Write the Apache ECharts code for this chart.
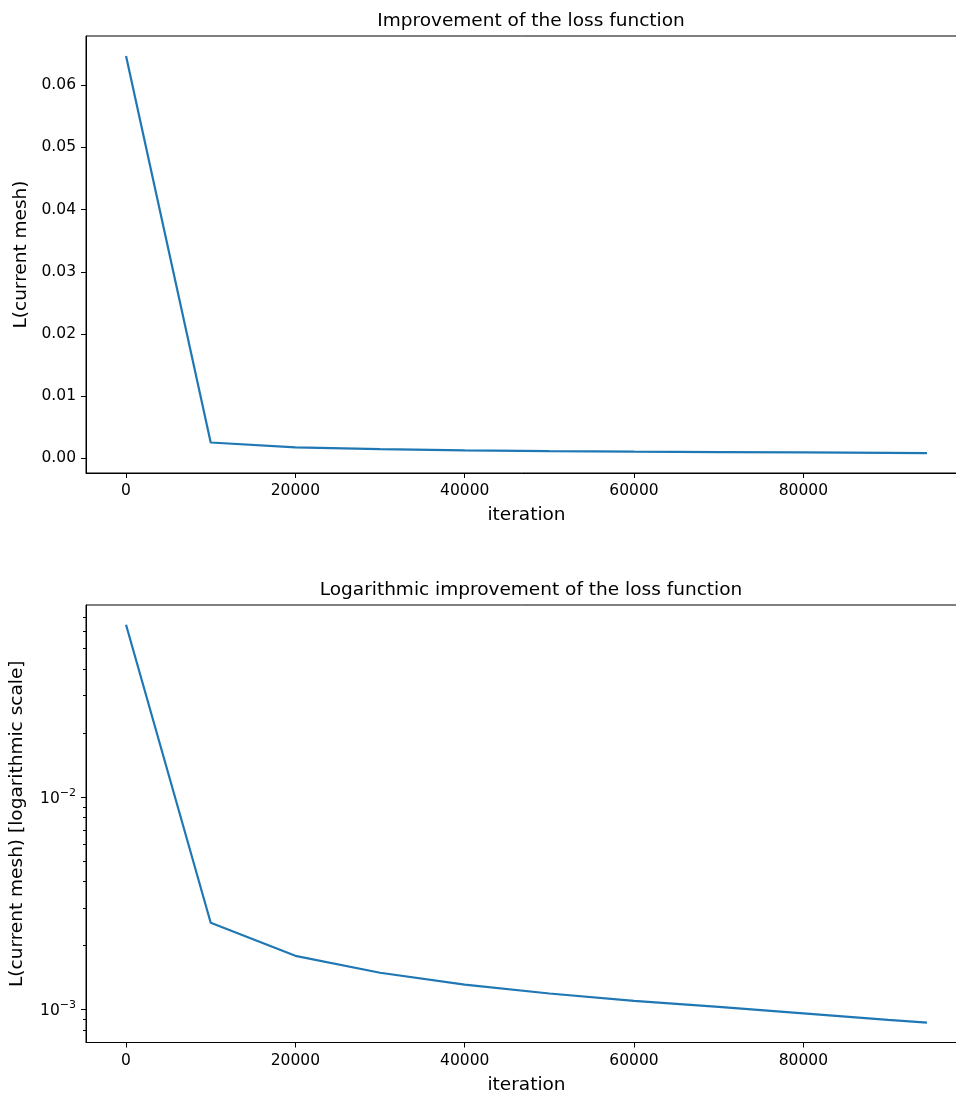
<!DOCTYPE html>
<html>
<head>
<meta charset="utf-8">
<script src="https://cdn.jsdelivr.net/npm/echarts@6/dist/echarts.min.js"></script>
<style>
  html, body { margin: 0; padding: 0; background: #fff; }
  #chart { width: 956px; height: 1099px; }
</style>
</head>
<body>
<div id="chart"></div>
<script>
// values
const iterations = [0, 10000, 20000, 30000, 40000, 50000, 60000, 70000, 80000, 90000, 94600]
const loss = [0.0647, 0.00256, 0.00179, 0.00149, 0.00131, 0.00119, 0.0011, 0.00103, 0.00096, 0.000895, 0.000868]

const xTicks = [0, 20000, 40000, 60000, 80000]
const yTicksLinear = [0, 0.01, 0.02, 0.03, 0.04, 0.05, 0.06]
const yTicksLog = [0.001, 0.01]
const yMinorLog = [0.0008, 0.0009, 0.002, 0.003, 0.004, 0.005, 0.006, 0.007, 0.008, 0.009,
                   0.02, 0.03, 0.04, 0.05, 0.06, 0.07]

const FONT = 'DejaVu Sans'
const points = iterations.map((x, i) => [x, loss[i]])

const xAxisBase = (gridIndex) => ({
    type: 'value',
    gridIndex,
    min: -4730,
    max: 99330,
    name: 'iteration',
    nameLocation: 'middle',
    nameGap: 33,
    nameTextStyle: { fontFamily: FONT, fontSize: 18.5, color: '#000' },
    splitLine: { show: false },
    axisLine: { show: true, onZero: false, lineStyle: { color: '#000', width: 1 } },
    axisTick: { show: true, length: 5, lineStyle: { color: '#000' }, customValues: xTicks },
    axisLabel: {
        fontFamily: FONT, fontSize: 15.5, color: '#000', margin: 10,
        customValues: xTicks,
        formatter: v => String(v)
    }
})

const supFormat = v => {
    const e = Math.round(Math.log10(v))
    return '{b|10}{s|\u2212' + Math.abs(e) + '}'
}

const option = {
    animation: false,
    backgroundColor: '#fff',
    title: [
        {
            text: 'Improvement of the loss function',
            left: 526, top: 7, textAlign: 'center',
            textStyle: { fontFamily: FONT, fontSize: 18.5, fontWeight: 'normal', color: '#000' }
        },
        {
            text: 'Logarithmic improvement of the loss function',
            left: 526, top: 576, textAlign: 'center',
            textStyle: { fontFamily: FONT, fontSize: 18.5, fontWeight: 'normal', color: '#000' }
        }
    ],
    grid: [
        { left: 86, top: 36, width: 881, height: 437, outerBoundsMode: 'none',
          show: true, borderColor: '#000', borderWidth: 1 },
        { left: 86, top: 605, width: 881, height: 437.5, outerBoundsMode: 'none',
          show: true, borderColor: '#000', borderWidth: 1 }
    ],
    xAxis: [xAxisBase(0), xAxisBase(1)],
    yAxis: [
        {
            type: 'value',
            gridIndex: 0,
            min: -0.00234,
            max: 0.0679,
            name: 'L(current mesh)',
            nameLocation: 'middle',
            nameRotate: 90,
            nameGap: 54,
            nameTextStyle: { fontFamily: FONT, fontSize: 18.5, color: '#000' },
            splitLine: { show: false },
            axisLine: { show: true, onZero: false, lineStyle: { color: '#000', width: 1 } },
            axisTick: { show: true, length: 5, lineStyle: { color: '#000' }, customValues: yTicksLinear },
            axisLabel: {
                fontFamily: FONT, fontSize: 15.5, color: '#000', margin: 10,
                customValues: yTicksLinear,
                formatter: v => v.toFixed(2)
            }
        },
        {
            type: 'log',
            logBase: 10,
            gridIndex: 1,
            min: 0.0007,
            max: 0.0801,
            name: 'L(current mesh) [logarithmic scale]',
            nameLocation: 'middle',
            nameRotate: 90,
            nameGap: 59,
            nameTextStyle: { fontFamily: FONT, fontSize: 18.5, color: '#000' },
            splitLine: { show: false },
            axisLine: { show: true, onZero: false, lineStyle: { color: '#000', width: 1 } },
            axisTick: { show: true, length: 5, lineStyle: { color: '#000' }, customValues: yTicksLog },
            axisLabel: {
                color: '#000', margin: 10,
                customValues: yTicksLog,
                formatter: supFormat,
                rich: {
                    b: { fontFamily: FONT, fontSize: 15.5, color: '#000', verticalAlign: 'bottom' },
                    s: { fontFamily: FONT, fontSize: 11, color: '#000', verticalAlign: 'top', padding: [0, 0, 8, 0] }
                }
            }
        },
        {
            // minor ticks of the log axis
            type: 'log',
            logBase: 10,
            gridIndex: 1,
            position: 'left',
            offset: 0,
            min: 0.0007,
            max: 0.0801,
            splitLine: { show: false },
            axisLine: { show: false, onZero: false },
            axisTick: { show: true, length: 3, lineStyle: { color: '#000' }, customValues: yMinorLog },
            axisLabel: { show: false }
        }
    ],
    series: [
        {
            type: 'line',
            xAxisIndex: 0,
            yAxisIndex: 0,
            data: points,
            showSymbol: false,
            lineStyle: { color: '#1f77b4', width: 2.2 }
        },
        {
            type: 'line',
            xAxisIndex: 1,
            yAxisIndex: 1,
            data: points,
            showSymbol: false,
            lineStyle: { color: '#1f77b4', width: 2.2 }
        }
    ]
}

const chart = echarts.init(document.getElementById('chart'), null, { renderer: 'canvas' })
chart.setOption(option)
</script>
</body>
</html>
